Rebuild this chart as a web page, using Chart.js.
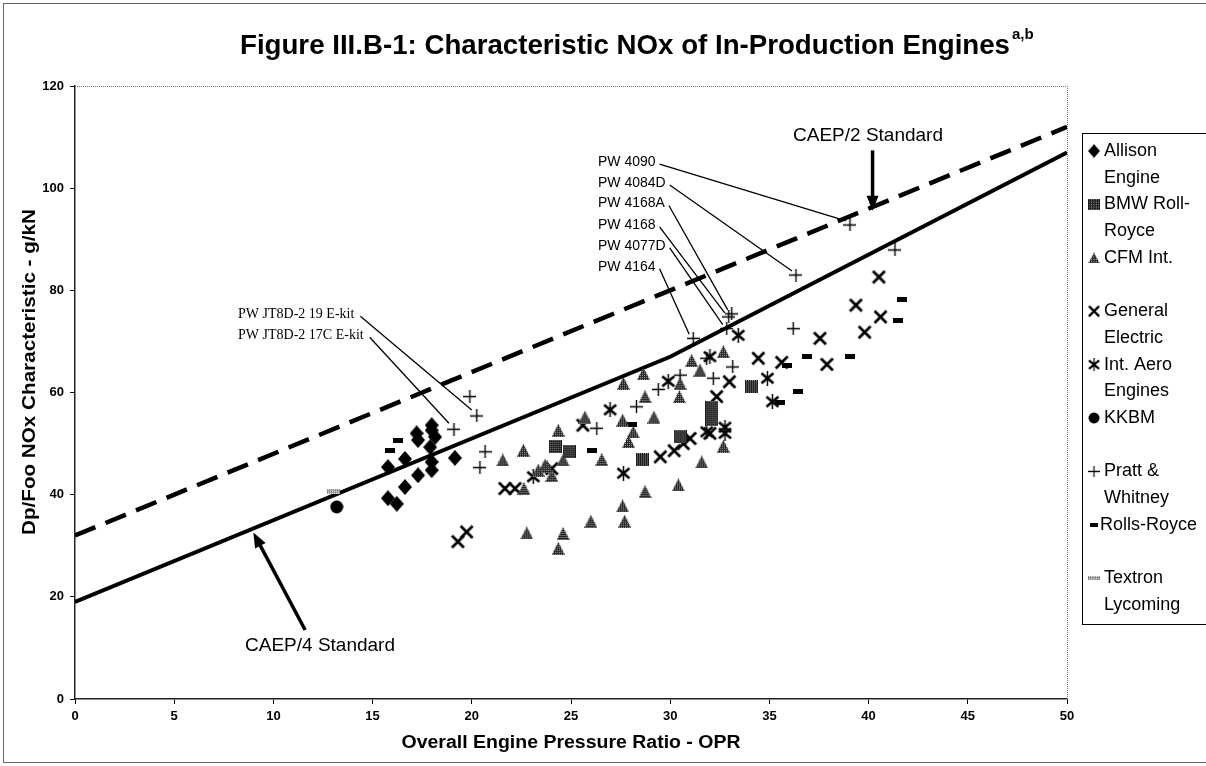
<!DOCTYPE html>
<html>
<head>
<meta charset="utf-8">
<script src="https://cdn.jsdelivr.net/npm/chart.js@4.4.0/dist/chart.umd.min.js"></script>
<style>
  html, body { margin: 0; padding: 0; background: #fff; }
</style>
</head>
<body>
<canvas id="noxChart" width="1206" height="766"></canvas>
<script>

// values: OPR on x, NOx characteristic (g/kN) on y
const allisonOPR = [17.98, 17.98, 18.15, 17.22, 17.29, 17.90, 16.63, 15.77, 17.98, 17.98, 17.29, 16.63, 19.15, 15.77, 16.22];
const allisonNOx = [53.6, 52.6, 51.3, 52.0, 50.7, 49.3, 47.0, 45.4, 46.4, 44.8, 43.8, 41.5, 47.2, 39.3, 38.2];

const bmwOPR = [24.2, 24.9, 28.6, 30.5, 32.1, 32.1, 34.1];
const bmwNOx = [49.4, 48.4, 46.8, 51.3, 57.0, 54.8, 61.1];

const cfmOPR = [24.36, 22.6, 21.56, 23.69, 24.03, 23.35, 22.63, 24.6, 22.77, 24.6,
                24.36, 25.7, 26.55, 27.6, 28.14, 27.9, 27.64, 28.65, 28.73, 29.18,
                30.46, 30.5, 31.08, 31.5, 32.68, 32.68, 31.59, 30.41, 28.73, 26.0,
                27.6, 27.7, 23.8];
const cfmNOx = [52.6, 48.7, 46.8, 45.8, 43.8, 44.8, 41.2, 46.8, 32.5, 32.4,
                29.5, 55.2, 46.9, 54.6, 52.3, 50.4, 61.8, 63.7, 59.2, 55.2,
                59.2, 61.8, 66.3, 64.4, 68.0, 49.5, 46.4, 41.9, 40.6, 34.8,
                37.8, 34.8, 45.5];

const geOPR = [19.30, 19.74, 21.67, 22.18, 24.03, 25.60, 29.50, 30.20, 30.66, 31.00, 32.00,
               32.34, 32.98, 34.44, 35.62, 37.55, 37.90, 39.36, 40.52, 40.60, 39.80];
const geNOx = [30.8, 32.7, 41.2, 41.2, 45.1, 53.6, 47.4, 48.6, 50.0, 51.0, 52.0,
               59.2, 62.1, 66.7, 65.9, 70.6, 65.5, 77.1, 82.6, 74.8, 71.8];

const iaeOPR = [23.10, 27.64, 26.97, 29.90, 32.00, 33.43, 34.90, 35.15, 32.76, 32.76, 31.84];
const iaeNOx = [43.5, 44.2, 56.6, 62.2, 67.0, 71.2, 62.8, 58.2, 53.2, 52.0, 52.3];

const kkbmOPR = [13.19];
const kkbmNOx = [37.6];

const pwOPR = [19.10, 20.25, 19.90, 20.67, 20.41, 26.30, 28.30, 29.40, 30.50, 31.84,
               32.17, 33.15, 31.16, 33.10, 32.95, 32.85, 36.20, 41.33, 36.34, 39.06];
const pwNOx = [52.8, 55.4, 59.2, 48.4, 45.3, 53.0, 57.2, 60.6, 63.4, 66.7,
               62.8, 65.0, 70.6, 75.4, 74.8, 72.5, 72.5, 87.9, 83.0, 92.8];

const rrOPR = [16.30, 15.90, 26.04, 28.06, 35.87, 36.88, 39.06, 36.46, 35.55, 41.67, 41.50];
const rrNOx = [50.7, 48.7, 48.7, 53.8, 65.2, 67.0, 67.0, 60.2, 58.0, 78.2, 74.0];

const textronOPR = [13.02];
const textronNOx = [40.7];

// regulatory lines
const caep2OPR = [0, 50];
const caep2NOx = [32, 112];
const caep4OPR = [0, 30, 50];
const caep4NOx = [19, 67, 107];

const oprTicks = [0, 5, 10, 15, 20, 25, 30, 35, 40, 45, 50];
const noxTicks = [0, 20, 40, 60, 80, 100, 120];

// engine call-outs: label row (data units) and index of the P&W point it names
const pwCallouts = [
  { text: "PW 4090", opr: 26.36, nox: 105.1, point: 19 },
  { text: "PW 4084D", opr: 26.36, nox: 101.0, point: 18 },
  { text: "PW 4168A", opr: 26.36, nox: 97.0, point: 13 },
  { text: "PW 4168", opr: 26.36, nox: 92.8, point: 14 },
  { text: "PW 4077D", opr: 26.36, nox: 88.7, point: 15 },
  { text: "PW 4164", opr: 26.36, nox: 84.6, point: 12 }
];
const jt8dCallouts = [
  { text: "PW JT8D-2 19 E-kit", opr: 8.22, nox: 75.3, point: 1 },
  { text: "PW JT8D-2 17C E-kit", opr: 8.22, nox: 71.2, point: 0 }
];

const legendNames = [
  ["Allison", "Engine"], ["BMW Roll-", "Royce"], ["CFM Int."], ["General", "Electric"],
  ["Int. Aero", "Engines"], ["KKBM"], ["Pratt &", "Whitney"], ["Rolls-Royce"], ["Textron", "Lycoming"]
];

const sans = "'Liberation Sans', Arial, sans-serif";
const serif = "'Liberation Serif', 'Times New Roman', serif";


function marker(w, h, paint) {
  const c = document.createElement("canvas");
  c.width = w;
  c.height = h;
  paint(c.getContext("2d"), w, h);
  return c;
}

function speckle(g, dark, light) {
  const p = document.createElement("canvas");
  p.width = 2;
  p.height = 2;
  const pg = p.getContext("2d");
  pg.fillStyle = dark;
  pg.fillRect(0, 0, 2, 2);
  pg.fillStyle = light;
  pg.fillRect(1, 0, 1, 1);
  return g.createPattern(p, "repeat");
}

const diamondIcon = marker(14, 16, (g, w, h) => {
  g.beginPath();
  g.moveTo(w / 2, 0); g.lineTo(w, h / 2); g.lineTo(w / 2, h); g.lineTo(0, h / 2);
  g.closePath();
  g.fillStyle = "#000";
  g.fill();
});
const squareIcon = marker(13, 13, (g, w, h) => {
  g.fillStyle = speckle(g, "#1a1a1a", "#999");
  g.fillRect(0, 0, w, h);
});
const triangleIcon = marker(13, 13, (g, w, h) => {
  g.beginPath();
  g.moveTo(w / 2, 0); g.lineTo(w, h); g.lineTo(0, h);
  g.closePath();
  g.fillStyle = speckle(g, "#222", "#aaa");
  g.fill();
});
const crossIcon = marker(15, 15, (g, w, h) => {
  g.strokeStyle = "#000";
  g.lineWidth = 2.8;
  g.beginPath();
  g.moveTo(1.5, 1.5); g.lineTo(w - 1.5, h - 1.5);
  g.moveTo(w - 1.5, 1.5); g.lineTo(1.5, h - 1.5);
  g.stroke();
});
const starIcon = marker(15, 15, (g, w, h) => {
  g.strokeStyle = "#000";
  g.lineWidth = 2.6;
  g.beginPath();
  g.moveTo(1.5, 2.5); g.lineTo(w - 1.5, h - 2.5);
  g.moveTo(w - 1.5, 2.5); g.lineTo(1.5, h - 2.5);
  g.stroke();
  g.lineWidth = 1.5;
  g.beginPath();
  g.moveTo(w / 2, 0); g.lineTo(w / 2, h);
  g.stroke();
});
const dotIcon = marker(14, 14, (g, w, h) => {
  g.fillStyle = "#000";
  g.beginPath();
  g.arc(w / 2, h / 2, 6.5, 0, Math.PI * 2);
  g.fill();
});
const plusIcon = marker(13, 13, (g, w, h) => {
  g.strokeStyle = "#000";
  g.lineWidth = 1.4;
  g.beginPath();
  g.moveTo(w / 2, 0); g.lineTo(w / 2, h);
  g.moveTo(0, h / 2); g.lineTo(w, h / 2);
  g.stroke();
});
const dashIcon = marker(10, 5, (g, w, h) => {
  g.fillStyle = "#000";
  g.fillRect(0, 0, w, h);
});
const barIcon = marker(13, 5, (g, w, h) => {
  g.fillStyle = speckle(g, "#888", "#fff");
  g.fillRect(0, 0, w, h);
});

const legendIcons = [diamondIcon, squareIcon, triangleIcon, crossIcon, starIcon, dotIcon, plusIcon, dashIcon, barIcon];


function pointSet(label, xs, ys, icon) {
  return {
    label: label,
    data: xs.map((x, i) => ({ x: x, y: ys[i] })),
    pointStyle: icon,
    pointRadius: 6,
    pointHoverRadius: 6,
    showLine: false,
    order: 1
  };
}

function lineSet(label, xs, ys, dash) {
  return {
    label: label,
    data: xs.map((x, i) => ({ x: x, y: ys[i] })),
    showLine: true,
    borderColor: "#000",
    borderWidth: dash ? 4.5 : 4,
    borderDash: dash || [],
    pointRadius: 0,
    tension: 0,
    fill: false,
    order: 5
  };
}


function stretchText(ctx, text, x, y, width, align) {
  const w = ctx.measureText(text).width;
  ctx.save();
  ctx.translate(x, y);
  ctx.scale(width / w, 1);
  ctx.textAlign = align;
  ctx.fillText(text, 0, 0);
  ctx.restore();
}

function arrow(ctx, x1, y1, x2, y2) {
  const ang = Math.atan2(y2 - y1, x2 - x1);
  const head = 15;
  ctx.beginPath();
  ctx.moveTo(x1, y1);
  ctx.lineTo(x2 - Math.cos(ang) * head * 0.8, y2 - Math.sin(ang) * head * 0.8);
  ctx.stroke();
  ctx.beginPath();
  ctx.moveTo(x2, y2);
  ctx.lineTo(x2 - head * Math.cos(ang) + 6 * Math.sin(ang), y2 - head * Math.sin(ang) - 6 * Math.cos(ang));
  ctx.lineTo(x2 - head * Math.cos(ang) - 6 * Math.sin(ang), y2 - head * Math.sin(ang) + 6 * Math.cos(ang));
  ctx.closePath();
  ctx.fill();
}


const decorations = {
  id: "decorations",
  beforeDraw(chart) {
    const ctx = chart.ctx;
    ctx.save();
    ctx.fillStyle = "#fff";
    ctx.fillRect(0, 0, chart.width, chart.height);
    ctx.strokeStyle = "#666";
    ctx.lineWidth = 1;
    ctx.strokeRect(3.5, 3.5, chart.width + 10, chart.height - 7);
    ctx.restore();
  },
  afterDatasetsDraw(chart) {
    const ctx = chart.ctx;
    const xs = chart.scales.x;
    const ys = chart.scales.y;
    ctx.save();
    ctx.fillStyle = "#000";
    ctx.strokeStyle = "#000";
    ctx.textBaseline = "middle";

    // P&W leader lines
    ctx.font = "14px " + sans;
    ctx.lineWidth = 1.3;
    pwCallouts.forEach(c => {
      const lx = xs.getPixelForValue(c.opr);
      const ly = ys.getPixelForValue(c.nox);
      ctx.textAlign = "left";
      ctx.fillText(c.text, lx, ly);
      const tw = ctx.measureText(c.text).width;
      const px = xs.getPixelForValue(pwOPR[c.point]);
      const py = ys.getPixelForValue(pwNOx[c.point]);
      ctx.beginPath();
      ctx.moveTo(lx + tw + 4, ly + 2);
      ctx.lineTo(px - 4, py - 4);
      ctx.stroke();
    });

    ctx.font = "14px " + serif;
    jt8dCallouts.forEach(c => {
      const lx = xs.getPixelForValue(c.opr);
      const ly = ys.getPixelForValue(c.nox);
      ctx.textAlign = "left";
      ctx.fillText(c.text, lx, ly);
      const tw = ctx.measureText(c.text).width;
      const px = xs.getPixelForValue(pwOPR[c.point]);
      const py = ys.getPixelForValue(pwNOx[c.point]);
      ctx.beginPath();
      ctx.moveTo(lx + tw + 6, ly + 2);
      ctx.lineTo(px - 5, py - 6);
      ctx.stroke();
    });

    // standard labels with arrows
    ctx.font = "19px " + sans;
    ctx.textAlign = "center";
    ctx.fillText("CAEP/2 Standard", xs.getPixelForValue(39.97), ys.getPixelForValue(110.2));
    ctx.fillText("CAEP/4 Standard", xs.getPixelForValue(12.35), ys.getPixelForValue(10.4));
    ctx.lineWidth = 3.5;
    arrow(ctx, xs.getPixelForValue(40.2), ys.getPixelForValue(107.4), xs.getPixelForValue(40.2), ys.getPixelForValue(95.6));
    arrow(ctx, xs.getPixelForValue(11.6), ys.getPixelForValue(13.5), xs.getPixelForValue(8.99), ys.getPixelForValue(32.6));
    ctx.restore();
  },
  afterDraw(chart) {
    const ctx = chart.ctx;
    const a = chart.chartArea;
    ctx.save();

    // dotted top and right frame of the plot area
    ctx.strokeStyle = "#777";
    ctx.lineWidth = 1;
    ctx.setLineDash([1, 1]);
    ctx.beginPath();
    ctx.moveTo(a.left, a.top + 0.5);
    ctx.lineTo(a.right + 0.5, a.top + 0.5);
    ctx.lineTo(a.right + 0.5, a.bottom);
    ctx.stroke();
    ctx.setLineDash([]);

    ctx.fillStyle = "#000";
    ctx.textBaseline = "middle";

    // title
    ctx.font = "bold 28px " + sans;
    stretchText(ctx, "Figure III.B-1: Characteristic NOx of In-Production Engines", 240, 46, 770, "left");
    ctx.font = "bold 15px " + sans;
    ctx.textAlign = "left";
    ctx.fillText("a,b", 1012, 35);

    // axis titles
    ctx.font = "bold 18px " + sans;
    stretchText(ctx, "Overall Engine Pressure Ratio - OPR", (a.left + a.right) / 2, 743, 339, "center");
    ctx.save();
    ctx.translate(30, 372);
    ctx.rotate(-Math.PI / 2);
    stretchText(ctx, "Dp/Foo NOx Characteristic - g/kN", 0, 0, 326, "center");
    ctx.restore();

    // legend
    ctx.strokeStyle = "#000";
    ctx.lineWidth = 1;
    ctx.strokeRect(1082.5, 133.5, 140, 491);
    ctx.font = "18px " + sans;
    ctx.textAlign = "left";
    legendNames.forEach((lines, i) => {
      const y = 151 + i * 53.4;
      const icon = legendIcons[i];
      const s = 0.85;
      ctx.drawImage(icon, 1094 - icon.width * s / 2, y - icon.height * s / 2, icon.width * s, icon.height * s);
      const tx = lines[0] === "Rolls-Royce" ? 1100 : 1104;
      lines.forEach((t, j) => ctx.fillText(t, tx, y + j * 26.7));
    });
    ctx.restore();
  }
};


const tickFont = { family: sans, size: 13, weight: "bold" };

const noxChart = new Chart(document.getElementById("noxChart"), {
  type: "scatter",
  data: {
    datasets: [
      pointSet("Allison Engine", allisonOPR, allisonNOx, diamondIcon),
      pointSet("BMW Roll-Royce", bmwOPR, bmwNOx, squareIcon),
      pointSet("CFM Int.", cfmOPR, cfmNOx, triangleIcon),
      pointSet("General Electric", geOPR, geNOx, crossIcon),
      pointSet("Int. Aero Engines", iaeOPR, iaeNOx, starIcon),
      pointSet("KKBM", kkbmOPR, kkbmNOx, dotIcon),
      pointSet("Pratt & Whitney", pwOPR, pwNOx, plusIcon),
      pointSet("Rolls-Royce", rrOPR, rrNOx, dashIcon),
      pointSet("Textron Lycoming", textronOPR, textronNOx, barIcon),
      lineSet("CAEP/2 Standard", caep2OPR, caep2NOx, [22, 11]),
      lineSet("CAEP/4 Standard", caep4OPR, caep4NOx, null)
    ]
  },
  options: {
    responsive: false,
    animation: false,
    devicePixelRatio: 1,
    layout: { padding: { left: 0, right: 139, top: 86, bottom: 0 } },
    plugins: {
      legend: { display: false },
      title: { display: false },
      tooltip: { enabled: false }
    },
    scales: {
      x: {
        type: "linear",
        min: 0,
        max: 50,
        afterBuildTicks: s => { s.ticks = oprTicks.map(v => ({ value: v })); },
        afterFit: s => { s.height = 67; },
        ticks: { color: "#000", font: tickFont, padding: 5, maxRotation: 0 },
        grid: { drawOnChartArea: false, drawTicks: true, tickLength: 5, color: "#000" },
        border: { color: "#222", width: 1.5 }
      },
      y: {
        type: "linear",
        min: 0,
        max: 120,
        afterBuildTicks: s => { s.ticks = noxTicks.map(v => ({ value: v })); },
        afterFit: s => { s.width = 75; },
        ticks: { color: "#000", font: tickFont, padding: 6 },
        grid: { drawOnChartArea: false, drawTicks: true, tickLength: 5, color: "#000" },
        border: { color: "#222", width: 1.5 }
      }
    }
  },
  plugins: [decorations]
});
</script>
</body>
</html>
